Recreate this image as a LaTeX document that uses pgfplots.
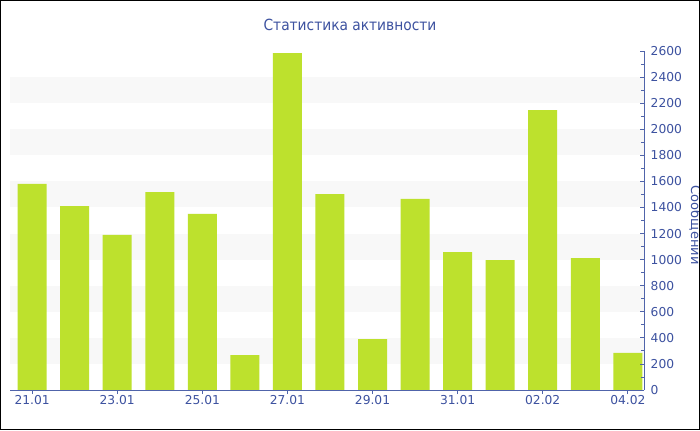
\documentclass[border=0pt]{standalone}
\usepackage{fontspec}
\setmainfont{DejaVu Sans}
\newfontfamily\condfont{DejaVu Sans Condensed}
\usepackage{pgfplots}
\pgfplotsset{compat=1.18}
\definecolor{txtblue}{RGB}{61,82,160}
\definecolor{axblue}{RGB}{80,100,170}
\definecolor{barg}{RGB}{189,225,45}
\definecolor{stripe}{RGB}{248,248,248}
\begin{document}
\begin{tikzpicture}[x=1pt,y=1pt]
\path[use as bounding box] (0,0) rectangle (525,322.5);
\fill[white] (0,0) rectangle (525,322.5);
\begin{axis}[
  at={(7.5pt,30pt)}, anchor=south west,
  scale only axis, width=475.5pt, height=254.25pt,
  xmin=-0.52, xmax=14.38, ymin=0, ymax=2600,
  axis x line*=bottom, axis y line*=right,
  axis line style={axblue, line width=0.75pt},
  axis on top,
  tick align=inside,
  major tick length=3pt, minor tick length=2pt,
  tick style={axblue, line width=0.6pt},
  x tick style={yshift=-3pt},
  xtick={0,2,...,14},
  xticklabels={21.01,23.01,25.01,27.01,29.01,31.01,02.02,04.02},
  ytick={0,200,...,2600},
  minor y tick num=1,
  /pgf/number format/assume math mode=true,
  /pgf/number format/1000 sep={},
  ticklabel style={font=\fontsize{9.2}{11}\selectfont, text=txtblue},
  yticklabel style={xshift=1.5pt},
  xticklabel style={yshift=-0.5pt},
  ylabel={Сообщений},
  every axis y label/.style={at={(rel axis cs:1,0.5)}, xshift=38.5pt, yshift=-3.4pt, rotate=-90, anchor=center, font=\fontsize{9.8}{11}\selectfont, text=txtblue},
]
\fill[stripe] (axis cs:-0.52,200) rectangle (axis cs:14.38,400);
\fill[stripe] (axis cs:-0.52,600) rectangle (axis cs:14.38,800);
\fill[stripe] (axis cs:-0.52,1000) rectangle (axis cs:14.38,1200);
\fill[stripe] (axis cs:-0.52,1400) rectangle (axis cs:14.38,1600);
\fill[stripe] (axis cs:-0.52,1800) rectangle (axis cs:14.38,2000);
\fill[stripe] (axis cs:-0.52,2200) rectangle (axis cs:14.38,2400);
\addplot[ybar, bar width=21.75pt, fill=barg, draw=none] coordinates {
(0,1580) (1,1411) (2,1189) (3,1518) (4,1350) (5,268) (6,2584) (7,1503)
(8,391) (9,1465) (10,1058) (11,997) (12,2147) (13,1012) (14,284)};
\end{axis}
\node[text=txtblue, font=\condfont\fontsize{11.5}{13}\selectfont] at (262.5,303.75) {Статистика активности};
\draw[black, line width=0.9pt] (0.45,0.45) rectangle (524.55,322.05);
\end{tikzpicture}
\end{document}
